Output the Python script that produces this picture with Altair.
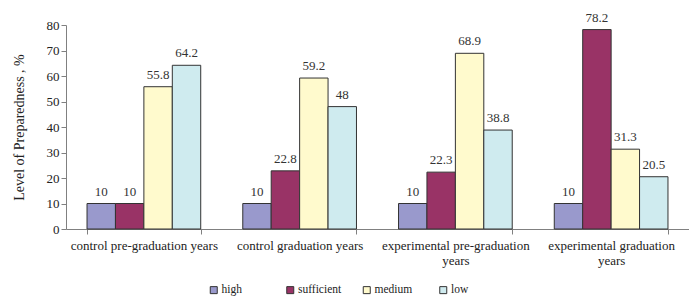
import altair as alt
import pandas as pd

categories = ["control pre-graduation years", "control graduation years",
              "experimental pre-graduation years", "experimental graduation years"]
levels = ["high", "sufficient", "medium", "low"]
high = [10, 10, 10, 10]
sufficient = [10, 22.8, 22.3, 78.2]
medium = [55.8, 59.2, 68.9, 31.3]
low = [64.2, 48, 38.8, 20.5]
y_ticks = [0, 10, 20, 30, 40, 50, 60, 70, 80]
colors = ["#9999CC", "#993366", "#FFFACD", "#CFEBEF"]

rows = []
for i, c in enumerate(categories):
    for lev, vals in zip(levels, [high, sufficient, medium, low]):
        rows.append({"group": c, "level": lev, "value": vals[i],
                     "label": f"{vals[i]:g}"})
df = pd.DataFrame(rows)

FONT = "Liberation Serif"
label_expr = ("datum.value == 'experimental pre-graduation years' ? ['experimental pre-graduation','years'] : "
              "datum.value == 'experimental graduation years' ? ['experimental graduation','years'] : datum.value")

x = alt.X("group:N", sort=categories, title=None,
          scale=alt.Scale(paddingInner=0.27, paddingOuter=0.135),
          axis=alt.Axis(labelAngle=0, labelExpr=label_expr,
                        tickBand="extent", labelPadding=5, labelLineHeight=15))
xo = alt.XOffset("level:N", sort=levels, scale=alt.Scale(paddingInner=0, paddingOuter=0))
y = alt.Y("value:Q", title="Level of Preparedness , %",
          scale=alt.Scale(domain=[0, 80], nice=False),
          axis=alt.Axis(values=y_ticks, labelOverlap=False, grid=False, titlePadding=20,
                        titleFontSize=14))

bars = alt.Chart(df).mark_bar(stroke="#333333", strokeWidth=1).encode(
    x=x, xOffset=xo, y=y,
    color=alt.Color("level:N", sort=levels, scale=alt.Scale(domain=levels, range=colors),
                    legend=alt.Legend(title=None, orient="none", direction="horizontal", columns=4,
                                      legendX=142, legendY=259, symbolType="square", symbolSize=49,
                                      symbolStrokeColor="#333", symbolStrokeWidth=1,
                                      gridAlign="all", columnPadding=19.5, symbolOffset=0, labelOffset=2)),
)

text = alt.Chart(df).mark_text(dy=-12, font=FONT, fontSize=13, color="#333").encode(
    x=x, xOffset=xo, y=y, text="label:N")

chart = (bars + text).properties(
    width=623, height=204,
    autosize=alt.AutoSizeParams(type="none"),
    padding={"left": 58, "top": 17, "right": 0, "bottom": 69},
).configure_view(stroke=None).configure_axis(
    labelFont=FONT, labelFontSize=13, labelColor="#222", titleFont=FONT, titleFontSize=13,
    titleFontWeight="normal", titleColor="#222", domainColor="#808080", tickColor="#808080",
    tickSize=5, grid=False
).configure_legend(labelFont=FONT, labelFontSize=11.5, labelColor="#222")

chart.save("out.html", embed_options={"renderer": "svg", "actions": False})
